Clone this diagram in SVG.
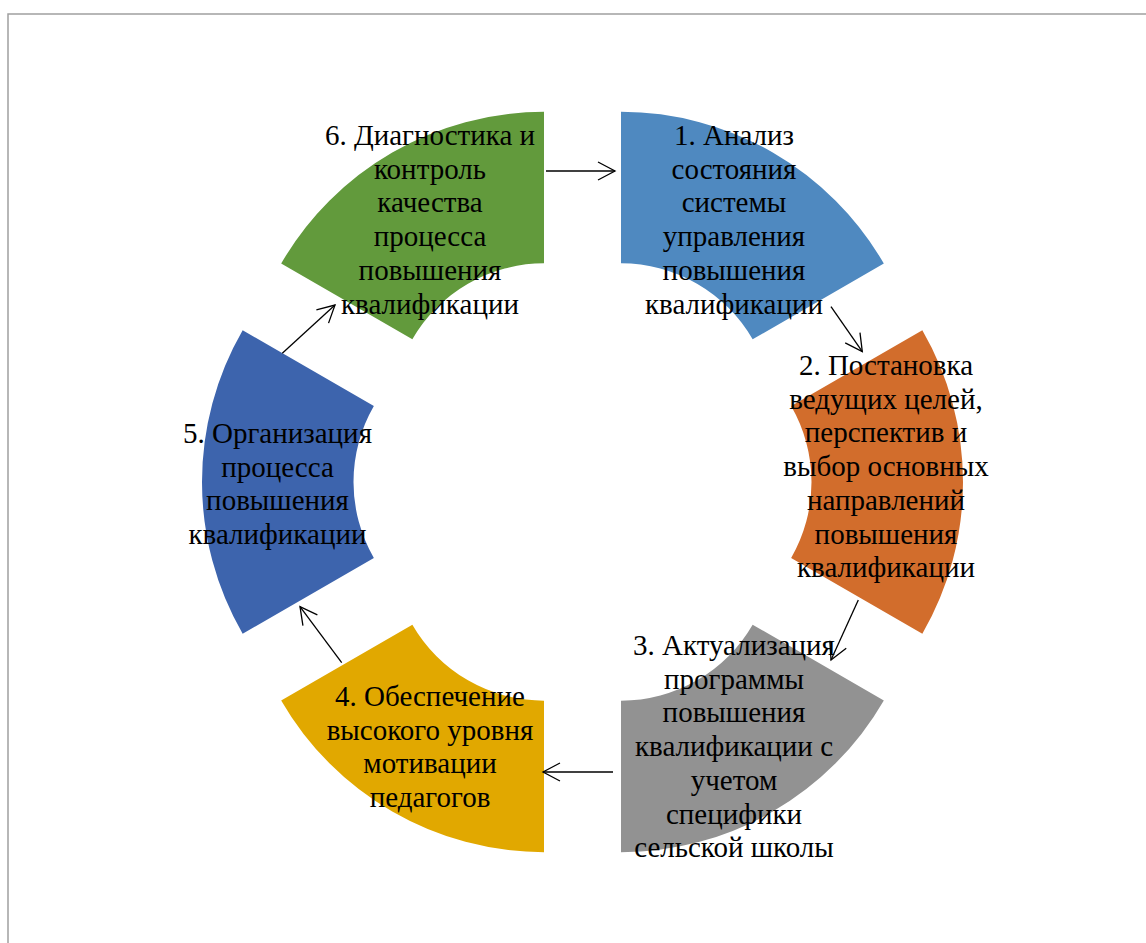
<svg xmlns="http://www.w3.org/2000/svg" xmlns:xlink="http://www.w3.org/1999/xlink" width="1146" height="943" viewBox="0 0 1146 943">
<style>
text{font-family:"Liberation Serif","Times New Roman",serif;font-size:29px;fill:#000;text-anchor:middle}
.conn line{stroke:#000;stroke-width:1.3;fill:none}
.frame{stroke:#A0A0A0;stroke-width:1.5;fill:none}
</style>
<defs>
<path id="seg" d="M -151.75 -339.84 A 303.5 303.5 0 0 1 151.75 -339.84 L 76 -208.64 A 152 152 0 0 0 -76 -208.64 Z"/>
<marker id="arr" viewBox="-20 -10 22 20" refX="0" refY="0" markerWidth="22" markerHeight="20" markerUnits="userSpaceOnUse" orient="auto" overflow="visible">
<path d="M -17 -9 L 0 0 L -17 9" fill="none" stroke="#000" stroke-width="1.3"/>
</marker>
</defs>
<rect width="1146" height="943" fill="#fff"/>
<path class="frame" d="M 8 943 L 8 14 L 1146 14"/>
<g id="node1">
<use xlink:href="#seg" href="#seg" transform="translate(582.5 482) rotate(30)" fill="#4F89C0"/>
<text x="734" y="145">1. Анализ</text>
<text x="734" y="178.7">состояния</text>
<text x="734" y="212.4">системы</text>
<text x="734" y="246.1">управления</text>
<text x="734" y="279.8">повышения</text>
<text x="734" y="313.5">квалификации</text>
</g>
<g id="node2">
<use xlink:href="#seg" href="#seg" transform="translate(582.5 482) rotate(90)" fill="#D26D2C"/>
<text x="886" y="375">2. Постановка</text>
<text x="886" y="408.7">ведущих целей,</text>
<text x="886" y="442.4">перспектив и</text>
<text x="886" y="476.1">выбор основных</text>
<text x="886" y="509.8">направлений</text>
<text x="886" y="543.5">повышения</text>
<text x="886" y="577.2">квалификации</text>
</g>
<g id="node3">
<use xlink:href="#seg" href="#seg" transform="translate(582.5 482) rotate(150)" fill="#929292"/>
<text x="734" y="655">3. Актуализация</text>
<text x="734" y="688.7">программы</text>
<text x="734" y="722.4">повышения</text>
<text x="734" y="756.1">квалификации с</text>
<text x="734" y="789.8">учетом</text>
<text x="734" y="823.5">специфики</text>
<text x="734" y="857.2">сельской школы</text>
</g>
<g id="node4">
<use xlink:href="#seg" href="#seg" transform="translate(582.5 482) rotate(210)" fill="#E1A800"/>
<text x="430" y="706">4. Обеспечение</text>
<text x="430" y="739.7">высокого уровня</text>
<text x="430" y="773.4">мотивации</text>
<text x="430" y="807.1">педагогов</text>
</g>
<g id="node5">
<use xlink:href="#seg" href="#seg" transform="translate(582.5 482) rotate(270)" fill="#3D64AD"/>
<text x="277.5" y="443">5. Организация</text>
<text x="277.5" y="476.7">процесса</text>
<text x="277.5" y="510.4">повышения</text>
<text x="277.5" y="544.1">квалификации</text>
</g>
<g id="node6">
<use xlink:href="#seg" href="#seg" transform="translate(582.5 482) rotate(-30)" fill="#629A3C"/>
<text x="430" y="145">6. Диагностика и</text>
<text x="430" y="178.7">контроль</text>
<text x="430" y="212.4">качества</text>
<text x="430" y="246.1">процесса</text>
<text x="430" y="279.8">повышения</text>
<text x="430" y="313.5">квалификации</text>
</g>
<g id="connectors" class="conn">
<line x1="546" y1="171" x2="615" y2="171" marker-end="url(#arr)"/>
<line x1="831" y1="306.7" x2="862.3" y2="351.7" marker-end="url(#arr)"/>
<line x1="858.3" y1="600" x2="831" y2="660" marker-end="url(#arr)"/>
<line x1="613" y1="772" x2="543" y2="772" marker-end="url(#arr)"/>
<line x1="341.7" y1="662.7" x2="300" y2="606.7" marker-end="url(#arr)"/>
<line x1="282.3" y1="353.3" x2="335" y2="305" marker-end="url(#arr)"/>
</g>
</svg>
